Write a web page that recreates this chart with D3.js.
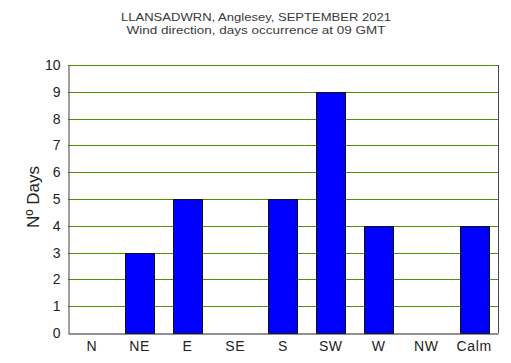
<!DOCTYPE html>
<html>
<head>
<meta charset="utf-8">
<script src="https://cdn.jsdelivr.net/npm/d3@7"></script>
<style>
    body { margin: 0; background: #fff; }
    svg { display: block; font-family: "Liberation Sans", Arial, sans-serif; }
</style>
</head>
<body>
<div id="chart"></div>
<script>
const directions = ["N", "NE", "E", "SE", "S", "SW", "W", "NW", "Calm"];
const days = [0, 3, 5, 0, 5, 9, 4, 0, 4];
const yTicks = [0, 1, 2, 3, 4, 5, 6, 7, 8, 9, 10];
const titleLines = ["LLANSADWRN, Anglesey, SEPTEMBER 2021", "Wind direction, days occurrence at 09 GMT"];
const titleWidths = [270, 259];
const yTitle = "N\u00BA Days";

const width = 511, height = 363;
const plot = { left: 68, right: 498, top: 65, bottom: 333 };

const svg = d3.select("#chart").append("svg")
    .attr("width", width)
    .attr("height", height);

const x = d3.scaleBand()
    .domain(directions)
    .range([plot.left, plot.right])
    .paddingInner(0.39)
    .paddingOuter(0.195);

const y = d3.scaleLinear()
    .domain([0, 10])
    .range([plot.bottom, plot.top]);

// title
svg.append("g").selectAll("text")
    .data(titleLines)
    .enter()
    .append("text")
    .attr("x", 256)
    .attr("y", (d, i) => 21 + i * 13)
    .attr("text-anchor", "middle")
    .attr("font-size", 11.5)
    .attr("textLength", (d, i) => titleWidths[i])
    .attr("lengthAdjust", "spacingAndGlyphs")
    .attr("fill", "#3a3a3a")
    .text(d => d);

// grid lines
svg.append("g").selectAll("line")
    .data(yTicks.filter(t => t > 0))
    .enter()
    .append("line")
    .attr("x1", plot.left)
    .attr("x2", plot.right)
    .attr("y1", d => Math.round(y(d)) + 0.5)
    .attr("y2", d => Math.round(y(d)) + 0.5)
    .attr("stroke", "#4f9000")
    .attr("stroke-width", 1);

// right border
svg.append("line")
    .attr("x1", plot.right + 0.5).attr("x2", plot.right + 0.5)
    .attr("y1", plot.top).attr("y2", plot.bottom)
    .attr("stroke", "#444");

// bars
svg.append("g").selectAll("rect")
    .data(directions.map((d, i) => ({ dir: d, value: days[i] })).filter(d => d.value > 0))
    .enter()
    .append("rect")
    .attr("x", d => Math.round(x(d.dir)) + 0.5)
    .attr("y", d => Math.round(y(d.value)) + 0.5)
    .attr("width", Math.round(x.bandwidth()))
    .attr("height", d => Math.round(y(0)) - Math.round(y(d.value)))
    .attr("fill", "#0000ff")
    .attr("stroke", "#111")
    .attr("stroke-width", 1);

// y axis
const yAxis = svg.append("g")
    .attr("transform", `translate(${plot.left + 0.5},0)`)
    .call(d3.axisLeft(y).tickValues(yTicks).tickSize(0).tickPadding(8));
yAxis.select(".domain").attr("stroke", "#4a4030");
yAxis.selectAll("text").attr("font-size", 14).attr("fill", "#222")
    .attr("font-family", "Liberation Sans, Arial, sans-serif");

// x axis
const xAxis = svg.append("g")
    .attr("transform", `translate(0,${plot.bottom + 0.5})`)
    .call(d3.axisBottom(x).tickSize(0).tickPadding(8));
xAxis.select(".domain").attr("stroke", "#222");
xAxis.selectAll("text").attr("font-size", 14).attr("fill", "#222")
    .attr("letter-spacing", 0.6)
    .attr("font-family", "Liberation Sans, Arial, sans-serif");

// y title
svg.append("text")
    .attr("transform", `translate(39,${(plot.top + plot.bottom) / 2 - 2}) rotate(-90)`)
    .attr("text-anchor", "middle")
    .attr("font-size", 17)
    .attr("fill", "#222")
    .text(yTitle);
</script>
</body>
</html>
